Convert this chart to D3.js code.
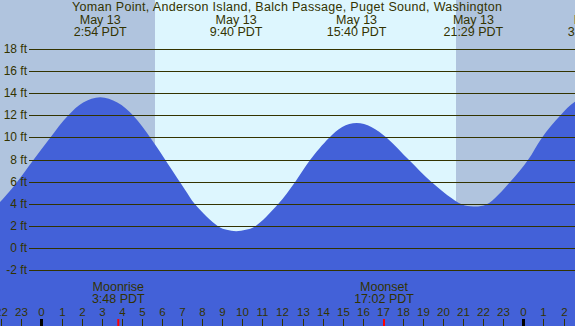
<!DOCTYPE html>
<html>
<head>
<meta charset="utf-8">
<script src="https://cdn.jsdelivr.net/npm/d3@7"></script>
<style>
  html, body { margin: 0; padding: 0; background: #fff; }
  svg { display: block; font-family: "Liberation Sans", Arial, sans-serif; }
</style>
</head>
<body>
<div id="chart"></div>
<script>
// Tide chart - Yoman Point, Anderson Island (D3 area chart)

var title = 'Yoman Point, Anderson Island, Balch Passage, Puget Sound, Washington';

// tide curve, hours from midnight May 13 and height in feet
var tideHours = [-5.0, -2.09, -1.25, -0.43, 0.4, 1.29, 2.05, 2.9, 3.75, 4.55, 5.44, 6.29, 7.13, 7.62, 8.78, 9.2, 9.67, 10.15,
    10.61, 11.75, 12.6, 13.35, 14.29, 14.95, 15.67, 16.4, 17.18, 18.28, 19.41, 20.9, 21.48, 22.15, 23.3, 24.2, 24.89, 25.8, 26.54, 27.5];
var tideFeet = [-1.0, 4.2, 6.0, 8.0, 10.0, 12.0, 13.2, 13.67, 13.2, 12.0, 9.9, 7.6, 5.3, 4.0, 2.0, 1.7, 1.57, 1.7,
    2.0, 4.0, 6.0, 8.0, 10.0, 11.0, 11.35, 11.0, 10.0, 8.0, 6.0, 4.0, 3.8, 4.0, 6.0, 8.0, 10.0, 12.0, 13.27, 13.9];

// high / low labels along the top
var extremeHours = [2.9, 9.667, 15.667, 21.483, 27.5];
var extremeDates = ['May 13', 'May 13', 'May 13', 'May 13', 'May 14'];
var extremeTimes = ['2:54 PDT', '9:40 PDT', '15:40 PDT', '21:29 PDT', '3:30 PDT'];

// sunrise / sunset
var sunriseHour = 5.63;
var sunsetHour = 20.62;

// moon events
var moonNames = ['Moonrise', 'Moonset'];
var moonHours = [3.8, 17.033];
var moonTimes = ['3:48 PDT', '17:02 PDT'];

var feetTicks = [-2, 0, 2, 4, 6, 8, 10, 12, 14, 16, 18];
var hourTicks = d3.range(-2, 27);

var W = 575, H = 326;
var textColor = '#333300';
var fontFamily = '"Liberation Sans", Arial, sans-serif';

var x = d3.scaleLinear().domain([-2.0916, 26.544]).range([0, W]);
var y = d3.scaleLinear().domain([0, 18]).range([248.5, 49.5]);

var svg = d3.select('#chart').append('svg').attr('width', W).attr('height', H);

// night and day backgrounds
svg.append('rect').attr('x', 0).attr('y', 0).attr('width', W).attr('height', H).attr('fill', '#b0c4de');
svg.append('rect').attr('x', Math.round(x(sunriseHour))).attr('y', 0)
    .attr('width', Math.round(x(sunsetHour)) - Math.round(x(sunriseHour))).attr('height', H).attr('fill', '#ddf6fe');

// tide area
var tide = tideHours.map(function(h, i) { return { h: h, ft: tideFeet[i] }; });
var area = d3.area().x(function(d) { return x(d.h); }).y0(H).y1(function(d) { return y(d.ft); })
    .curve(d3.curveCatmullRom.alpha(0.5));
svg.append('path').datum(tide).attr('d', area).attr('fill', '#4361d8');

// feet grid and labels
var yAxis = svg.append('g').attr('transform', 'translate(29,0)')
    .call(d3.axisLeft(y).tickValues(feetTicks).tickSizeInner(-(W - 29)).tickSizeOuter(0).tickPadding(2)
        .tickFormat(function(d) { return d + ' ft'; }));
yAxis.select('.domain').remove();
yAxis.selectAll('.tick').attr('transform', function(d) { return 'translate(0,' + (Math.round(y(d) - 0.5) + 0.5) + ')'; });
yAxis.selectAll('.tick line').attr('stroke', textColor);
yAxis.selectAll('.tick text').attr('fill', textColor).style('font-size', '12px').style('font-family', fontFamily);

// top labels
var topLabels = svg.append('g').attr('fill', textColor).attr('text-anchor', 'middle')
    .style('font-size', '12.5px').style('font-family', fontFamily);
topLabels.append('text').attr('x', 287).attr('y', 11).attr('textLength', 430).attr('lengthAdjust', 'spacing').text(title);
extremeHours.forEach(function(h, i) {
    topLabels.append('text').attr('x', x(h)).attr('y', 24).text(extremeDates[i]);
    topLabels.append('text').attr('x', x(h)).attr('y', 36).text(extremeTimes[i]);
});

// hour axis along the bottom
var xAxis = svg.append('g').attr('transform', 'translate(0,' + H + ')')
    .call(d3.axisTop(x).tickValues(hourTicks).tickSizeInner(7).tickSizeOuter(0).tickPadding(3)
        .tickFormat(function(d) { return ((d % 24) + 24) % 24; }));
xAxis.select('.domain').remove();
xAxis.selectAll('.tick').attr('transform', function(d) { return 'translate(' + (Math.round(x(d) - 0.5) + 0.5) + ',0)'; });
xAxis.selectAll('.tick line')
    .attr('stroke-width', function(d) { return d % 24 === 0 ? 3 : 1; })
    .attr('stroke', function(d) { return d % 24 === 0 ? '#000' : textColor; });
xAxis.selectAll('.tick text').attr('fill', textColor).style('font-size', '11.5px').style('font-family', fontFamily);

// moon events
var moon = svg.append('g').attr('fill', textColor).attr('text-anchor', 'middle')
    .style('font-size', '12.5px').style('font-family', fontFamily);
moonHours.forEach(function(h, i) {
    moon.append('text').attr('x', x(h)).attr('y', 291).text(moonNames[i]);
    moon.append('text').attr('x', x(h)).attr('y', 303).text(moonTimes[i]);
    moon.append('line').attr('x1', x(h)).attr('x2', x(h)).attr('y1', H - 7).attr('y2', H)
        .attr('stroke', '#ff0000').attr('stroke-width', 2);
});
</script>
</body>
</html>
